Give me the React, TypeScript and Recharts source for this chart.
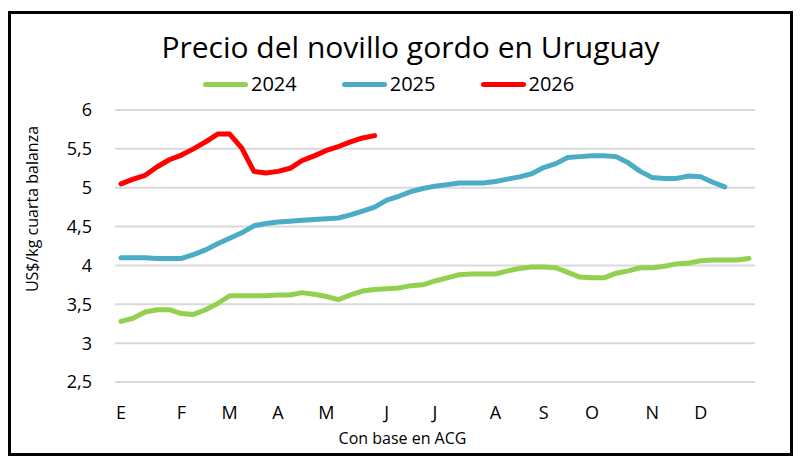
import { CartesianGrid, Legend, Line, LineChart, XAxis, YAxis } from 'recharts'

const FONT = '"Open Sans", sans-serif'

// weekly price, US$/kg cuarta balanza
const v2024 = [
  3.28, 3.32, 3.4, 3.43, 3.43, 3.38, 3.37, 3.43, 3.51, 3.61, 3.61, 3.61, 3.61,
  3.62, 3.62, 3.65, 3.63, 3.6, 3.56, 3.62, 3.67, 3.69, 3.7, 3.71, 3.74, 3.75,
  3.8, 3.84, 3.88, 3.89, 3.89, 3.89, 3.93, 3.96, 3.98, 3.98, 3.97, 3.91, 3.85,
  3.84, 3.84, 3.9, 3.93, 3.97, 3.97, 3.99, 4.02, 4.03, 4.06, 4.07, 4.07, 4.07,
  4.09,
]
const v2025 = [
  4.1, 4.1, 4.1, 4.09, 4.09, 4.09, 4.14, 4.2, 4.28, 4.35, 4.42, 4.51, 4.54,
  4.56, 4.57, 4.58, 4.59, 4.6, 4.61, 4.65, 4.7, 4.75, 4.84, 4.89, 4.95, 4.99,
  5.02, 5.04, 5.06, 5.06, 5.06, 5.08, 5.11, 5.14, 5.18, 5.26, 5.31, 5.39, 5.4,
  5.41, 5.41, 5.4, 5.32, 5.21, 5.13, 5.12, 5.12, 5.15, 5.14, 5.07, 5.01,
]
const v2026 = [
  5.05, 5.11, 5.16, 5.27, 5.36, 5.42, 5.5, 5.59, 5.69, 5.69, 5.51, 5.21, 5.19,
  5.21, 5.25, 5.35, 5.41, 5.48, 5.53, 5.59, 5.64, 5.67,
]

const monthTicks = [0, 5, 9, 13, 17, 22, 26, 31, 35, 39, 44, 48]
const monthLabels = ['E', 'F', 'M', 'A', 'M', 'J', 'J', 'A', 'S', 'O', 'N', 'D']
const yTicks = [2.5, 3, 3.5, 4, 4.5, 5, 5.5, 6]

const series = [
  { key: 'y2024', name: '2024', color: '#92D050' },
  { key: 'y2025', name: '2025', color: '#4BACC6' },
  { key: 'y2026', name: '2026', color: '#FF0000' },
]

const data = v2024.map((v, i) => ({
  week: i,
  y2024: v,
  y2025: v2025[i],
  y2026: v2026[i],
}))

const monthFormatter = (v: number) => monthLabels[monthTicks.indexOf(v)] ?? ''
const commaFormatter = (v: number) => String(v).replace('.', ',')

const LegendContent = () => (
  <div style={{ display: 'flex', marginLeft: 203, fontFamily: FONT, fontSize: 20 }}>
    {series.map((s) => (
      <div key={s.key} style={{ display: 'flex', alignItems: 'center', marginRight: 45 }}>
        <div style={{ width: 45, height: 5, borderRadius: 3, background: s.color }} />
        <span style={{ marginLeft: 3, lineHeight: '20px' }}>{s.name}</span>
      </div>
    ))}
  </div>
)

export default function App() {
  return (
    <div style={{ position: 'absolute', left: 0, top: 0, width: 805, height: 467, background: '#fff' }}>
      <LineChart
        width={805}
        height={467}
        data={data}
        margin={{ top: 110, right: 50, left: 0, bottom: 55 }}
      >
        <CartesianGrid vertical={false} stroke="#d9d9d9" strokeWidth={2} />
        <XAxis
          dataKey="week"
          type="number"
          domain={[-0.5, 52.5]}
          ticks={monthTicks}
          tickFormatter={monthFormatter}
          axisLine={false}
          tickLine={false}
          tickSize={0}
          tickMargin={24}
          height={30}
          tick={{ fill: '#000', fontSize: 18, fontFamily: FONT }}
        />
        <YAxis
          domain={[2.5, 6]}
          ticks={yTicks}
          tickFormatter={commaFormatter}
          axisLine={false}
          tickLine={false}
          tickSize={0}
          tickMargin={23}
          width={115}
          tick={{ fill: '#000', fontSize: 18, fontFamily: FONT }}
        />
        <Legend
          layout="horizontal"
          verticalAlign="middle"
          content={<LegendContent />}
          wrapperStyle={{ top: 74, left: 0, width: 805 }}
        />
        {series.map((s) => (
          <Line
            key={s.key}
            dataKey={s.key}
            name={s.name}
            stroke={s.color}
            strokeWidth={5}
            strokeLinejoin="round"
            strokeLinecap="round"
            dot={false}
            type="linear"
            isAnimationActive={false}
          />
        ))}
      </LineChart>
      <div
        style={{
          position: 'absolute',
          left: 8,
          top: 11,
          width: 785,
          height: 445,
          border: '3px solid #000',
          boxSizing: 'border-box',
          pointerEvents: 'none',
        }}
      />
      <div
        style={{
          position: 'absolute',
          left: 8,
          top: 27,
          width: 805,
          textAlign: 'center',
          fontFamily: FONT,
          fontSize: 30,
          lineHeight: '40px',
        }}
      >
        Precio del novillo gordo en Uruguay
      </div>
      <div
        style={{
          position: 'absolute',
          left: 0,
          top: 428,
          width: 805,
          textAlign: 'center',
          fontFamily: FONT,
          fontSize: 16,
          lineHeight: '20px',
        }}
      >
        Con base en ACG
      </div>
      <div
        style={{
          position: 'absolute',
          left: 32 - 100,
          top: 209 - 10,
          width: 200,
          textAlign: 'center',
          fontFamily: FONT,
          fontSize: 16,
          lineHeight: '20px',
          transform: 'rotate(-90deg)',
        }}
      >
        US$/kg cuarta balanza
      </div>
    </div>
  )
}
